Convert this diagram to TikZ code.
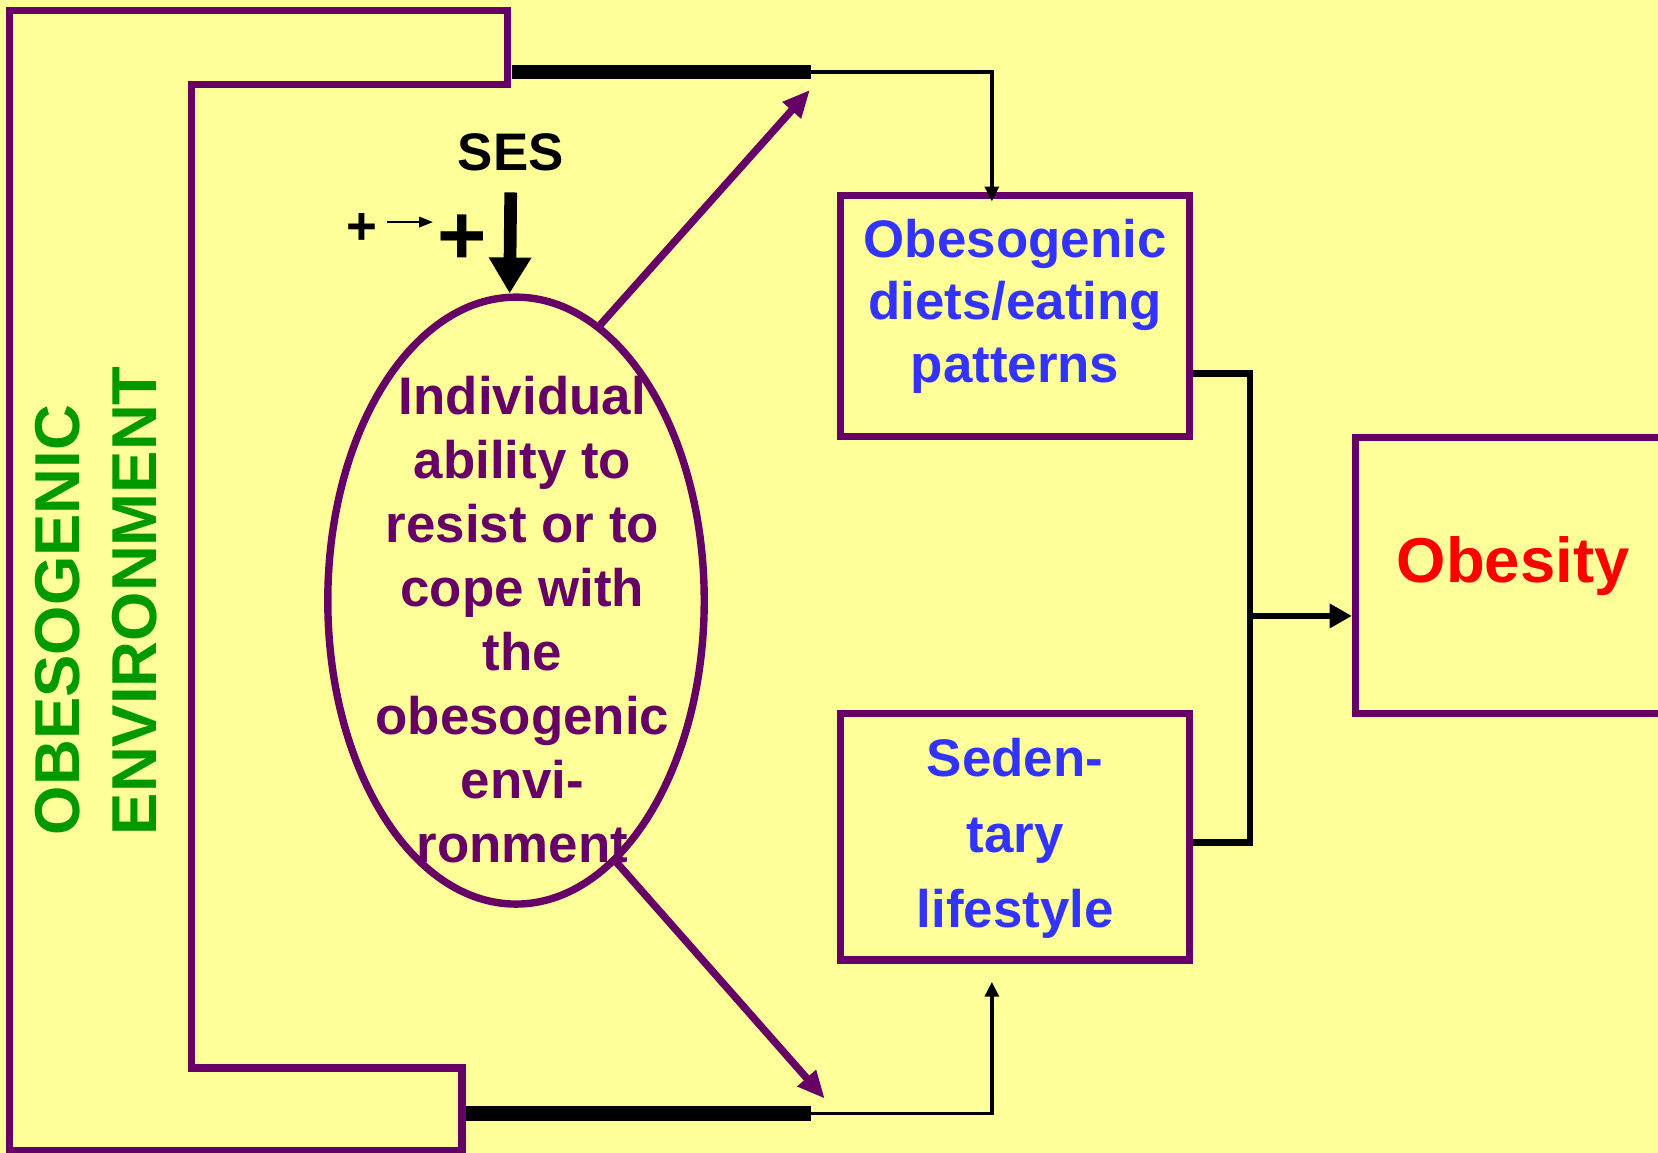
\documentclass[tikz,border=0pt]{standalone}
\usepackage{fontspec}
\setmainfont{Liberation Sans}
\usetikzlibrary{shapes.geometric,arrows.meta}
\definecolor{bgyellow}{HTML}{FFFF99}
\definecolor{plum}{HTML}{660066}
\definecolor{txtblue}{HTML}{3333FF}
\definecolor{envgreen}{HTML}{009900}
\definecolor{obred}{HTML}{FF0000}
\begin{document}
\begin{tikzpicture}[x=1pt,y=-1pt,
  pline/.style={draw=plum,line width=7pt},
  boxnode/.style={pline,rectangle,inner sep=0pt},
  txt/.style={font=\bfseries\fontsize{50}{59}\selectfont,align=center,inner sep=0pt},
  thickbar/.style={line width=14pt},
  thinarr/.style={line width=3.5pt,-{Triangle[length=14pt,width=13pt]}},
  blkline/.style={line width=6.3pt},
  purarr/.style={pline,-{Triangle[length=26pt,width=22pt]}},
  sesarr/.style={line width=12pt,-{Triangle[length=34pt,width=38pt]}}
]
\useasboundingbox (0,0) rectangle (1568,1090);
\clip (0,0) rectangle (1568,1090);
\fill[bgyellow] (0,0) rectangle (1568,1090);

% outer environment frame
\draw[pline] (9,10) -- (480,10) -- (480,80) -- (181,80) -- (181,1010) -- (437,1010) -- (437,1088) -- (9,1088) -- cycle;

% coordinates
\coordinate (tb0) at (484,68);
\coordinate (tb1) at (767,68);
\coordinate (bb0) at (441,1053);
\coordinate (bb1) at (767,1053);
\coordinate (pta) at (766,85);
\coordinate (pba) at (780,1039);
\coordinate (jn) at (1182,582.5);
\coordinate (sa) at (366,210);

% boxes
\node[boxnode,minimum width=330pt,minimum height=228pt] (diet) at (960,299) {};
\node[boxnode,minimum width=330pt,minimum height=233pt] (sed) at (960,791.5) {};
\node[boxnode,minimum width=420pt,minimum height=261pt] (obes) at (1492,544) {};
\node[pline,ellipse,minimum width=356pt,minimum height=574pt,inner sep=0pt] (ell) at (488,568) {};

% texts
\node[txt,text=txtblue,anchor=north] (diettext) at (960,207) {Obesogenic\\diets/eating\\patterns};
\node[txt,text=txtblue,anchor=north,font=\bfseries\fontsize{50}{71.5}\selectfont] (sedtext) at (960,698) {Seden-\\tary\\lifestyle};
\node[txt,text=plum,anchor=north,font=\bfseries\fontsize{50}{60.4}\selectfont] (elltext) at (494,356) {Individual\\ability to\\resist or to\\cope with\\the\\obesogenic\\envi-\\ronment};
\node[font=\bfseries\fontsize{60}{72}\selectfont,text=obred,inner sep=0pt,anchor=base] (obestext) at (1431,551) {Obesity};
\node[font=\bfseries\fontsize{50}{60}\selectfont,inner sep=0pt,anchor=base] (ses) at (483,161) {SES};
\node[font=\bfseries\fontsize{60}{73}\selectfont,text=envgreen,rotate=90,align=left,anchor=west,inner sep=0pt] (env) at (90.6,790) {OBESOGENIC\\ENVIRONMENT};
\node[font=\bfseries\fontsize{50}{60}\selectfont,inner sep=0pt,anchor=base] (pl1) at (342,231.5) {+};
\node[font=\bfseries\fontsize{80}{90}\selectfont,inner sep=0pt,anchor=base] (pl2) at (437,250.5) {+};

% connectors
\draw[thickbar] (tb0) -- (tb1);
\draw[thickbar] (bb0) -- (bb1);
\draw[thinarr] (tb1) -| ([xshift=-22pt,yshift=-9pt]diet.north);
\draw[thinarr] (bb1) -| ([xshift=-22pt,yshift=-17pt]sed.south);
\draw[purarr] (ell.73) -- (pta);
\draw[purarr] (ell.-69) -- (pba);
\draw[sesarr] ([yshift=-21pt]ses.base) -- ([xshift=-6pt]ell.north);
\draw[line width=1.5pt,-{Triangle[length=13pt,width=10pt]},shorten >=4pt] (sa) -- (sa -| pl2.west);
\draw[blkline] ([yshift=-54pt]diet.east) -| (jn) |- ([yshift=-5pt]sed.east);
\draw[blkline,-{Triangle[length=21pt,width=22pt]}] (jn) -- (obes.west |- jn);
\end{tikzpicture}
\end{document}
